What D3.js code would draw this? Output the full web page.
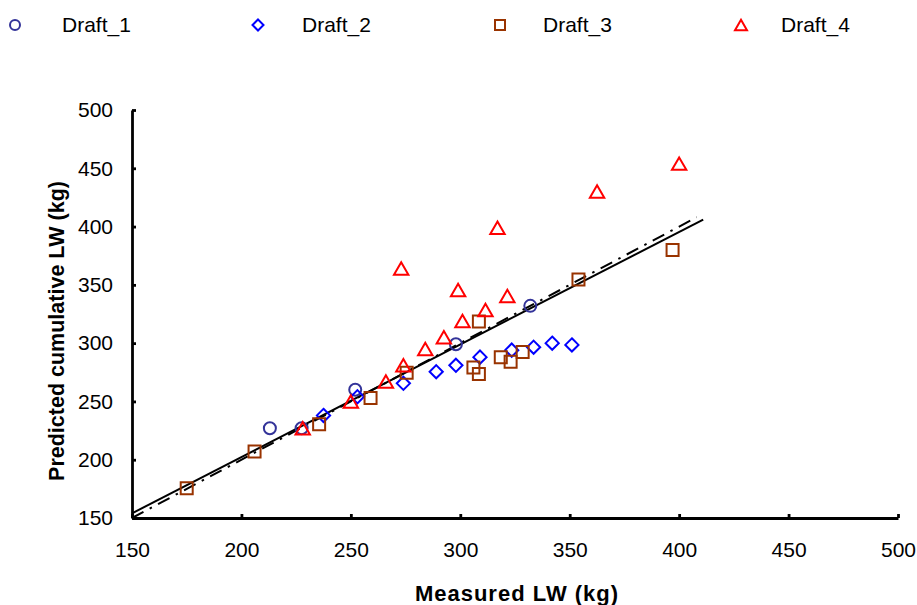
<!DOCTYPE html>
<html>
<head>
<meta charset="utf-8">
<script src="https://cdn.jsdelivr.net/npm/d3@7"></script>
<style>
  html, body { margin: 0; padding: 0; background: #fff; }
  svg { display: block; }
  text { font-family: "Liberation Sans", Arial, sans-serif; fill: #000; }
</style>
</head>
<body>
<svg id="chart" width="917" height="605"></svg>
<script>
// Series: measured LW (x) vs predicted cumulative LW (y), in kg
const seriesNames = ["Draft_1", "Draft_2", "Draft_3", "Draft_4"];

const draft1X = [213, 227.5, 252, 298, 332];
const draft1Y = [227, 227, 260, 299, 332];

const draft2X = [237.5, 253, 274, 289, 298, 309, 323.5, 333.5, 342, 351];
const draft2Y = [238, 254, 265.5, 275.5, 281, 288, 294, 296.5, 300, 298.5];

const draft3X = [175, 206, 235.5, 259, 275.5, 306, 308.5, 308.5, 318.5, 323, 328.5, 354, 397];
const draft3Y = [175.5, 207, 230.5, 253, 274.5, 279, 273.5, 318.5, 288, 284, 292.5, 354.5, 380];

const draft4X = [228, 250, 266, 274, 284, 292.5, 299, 301, 311.5, 317, 321.5, 273, 362.5, 400];
const draft4Y = [227, 250, 267, 281, 295, 305, 345.5, 319, 328.5, 399, 340.5, 364, 430, 454];

// Fitted regression line and the 1:1 line (end points)
const fitX = [150, 411];
const fitY = [154, 406];
const identityX = [150, 408];
const identityY = [150, 408];

const xTicks = [150, 200, 250, 300, 350, 400, 450, 500];
const yTicks = [150, 200, 250, 300, 350, 400, 450, 500];

const xTitle = "Measured LW (kg)";
const yTitle = "Predicted cumulative LW (kg)";

// ---------------------------------------------------------------
const svg = d3.select("#chart");
const x = d3.scaleLinear().domain([150, 500]).range([132, 898]);
const y = d3.scaleLinear().domain([150, 500]).range([518, 110]);

const styles = [
  { color: "#333399", shape: "circle" },
  { color: "#0000ff", shape: "diamond" },
  { color: "#993300", shape: "square" },
  { color: "#ff0000", shape: "triangle" }
];

function shapePath(shape, s) {
  const p = d3.path();
  if (shape === "circle") {
    p.arc(0, 0, s * 0.5, 0, 2 * Math.PI);
  } else if (shape === "diamond") {
    const h = s * 0.55;
    p.moveTo(0, -h); p.lineTo(h, 0); p.lineTo(0, h); p.lineTo(-h, 0); p.closePath();
  } else if (shape === "square") {
    const h = s * 0.5;
    p.rect(-h, -h, 2 * h, 2 * h);
  } else {
    const w = s * 0.6, h = s * 0.52;
    p.moveTo(0, -h); p.lineTo(w, h); p.lineTo(-w, h); p.closePath();
  }
  return p.toString();
}

// Axes
const xAxis = d3.axisBottom(x).tickValues(xTicks).tickSizeInner(-4).tickSizeOuter(0).tickPadding(24);
const yAxis = d3.axisLeft(y).tickValues(yTicks).tickSizeInner(-4).tickSizeOuter(0).tickPadding(19);

const gx = svg.append("g").attr("transform", "translate(0,518)").call(xAxis);
const gy = svg.append("g").attr("transform", "translate(132,0)").call(yAxis);
[gx, gy].forEach(g => {
  g.select(".domain").attr("stroke", "#000").attr("stroke-width", 2.8);
  g.selectAll(".tick line").attr("stroke", "#000").attr("stroke-width", 2.8);
  g.selectAll(".tick text")
    .style("font-family", "'Liberation Sans', Arial, sans-serif")
    .style("font-size", "21px")
    .attr("fill", "#000");
});

// Axis titles
svg.append("text")
  .attr("x", 517).attr("y", 601)
  .attr("text-anchor", "middle")
  .style("font-size", "22px").style("font-weight", "bold")
  .style("letter-spacing", "1px")
  .text(xTitle);

svg.append("text")
  .attr("transform", "translate(64,331) rotate(-90)")
  .attr("text-anchor", "middle")
  .style("font-size", "21.5px").style("font-weight", "bold")
  .text(yTitle);

// Lines
const line = d3.line().x(d => x(d[0])).y(d => y(d[1]));
svg.append("path")
  .datum(d3.zip(identityX, identityY))
  .attr("d", line)
  .attr("fill", "none").attr("stroke", "#000").attr("stroke-width", 2)
  .attr("stroke-dasharray", "13,7,2.5,7");
svg.append("path")
  .datum(d3.zip(fitX, fitY))
  .attr("d", line)
  .attr("fill", "none").attr("stroke", "#000").attr("stroke-width", 2);

// Points
const seriesData = [
  d3.zip(draft1X, draft1Y),
  d3.zip(draft2X, draft2Y),
  d3.zip(draft3X, draft3Y),
  d3.zip(draft4X, draft4Y)
];

seriesData.forEach((pts, i) => {
  const st = styles[i];
  svg.append("g").selectAll("path")
    .data(pts)
    .join("path")
    .attr("transform", d => `translate(${x(d[0])},${y(d[1])})`)
    .attr("d", shapePath(st.shape, 12))
    .attr("fill", "none")
    .attr("stroke", st.color)
    .attr("stroke-width", 2);
});

// Legend
const legendMarkX = [15, 258, 500, 741];
const legendTextX = [62, 302, 543, 781];
const legend = svg.append("g");
seriesNames.forEach((name, i) => {
  const st = styles[i];
  legend.append("path")
    .attr("transform", `translate(${legendMarkX[i]},25)`)
    .attr("d", shapePath(st.shape, 10))
    .attr("fill", "none")
    .attr("stroke", st.color)
    .attr("stroke-width", 2);
  legend.append("text")
    .attr("x", legendTextX[i]).attr("y", 32)
    .style("font-size", "21px")
    .text(name);
});
</script>
</body>
</html>
